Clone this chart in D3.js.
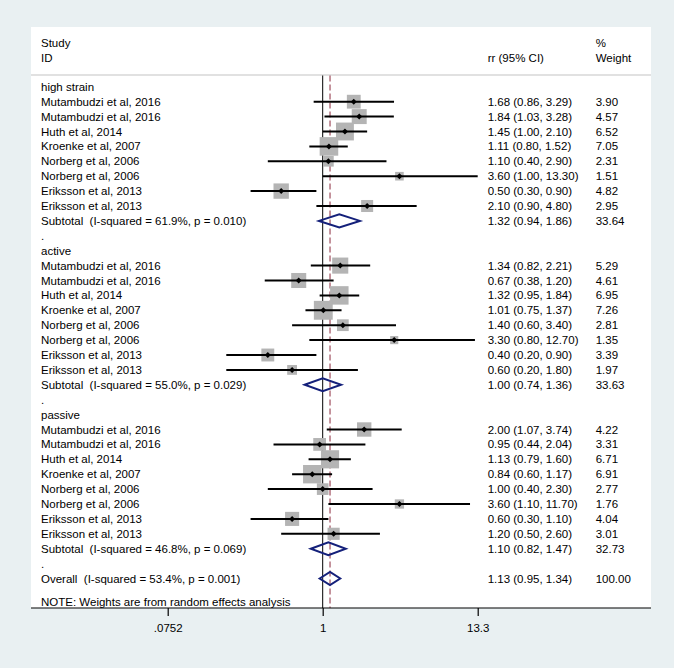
<!DOCTYPE html>
<html><head><meta charset="utf-8">
<script src="https://cdn.jsdelivr.net/npm/d3@7"></script>
<style>
html,body{margin:0;padding:0;background:#e9f0f2;}
svg{display:block;}
text{font-family:"Liberation Sans",Arial,sans-serif;font-size:11.5px;fill:#000;white-space:pre;}
</style></head>
<body><svg id="c" width="674" height="668"></svg>
<script>
// ---- data ----
const groups = ["high strain", "active", "passive"];
const studies = ["Mutambudzi et al, 2016","Mutambudzi et al, 2016","Huth et al, 2014","Kroenke et al, 2007","Norberg et al, 2006","Norberg et al, 2006","Eriksson et al, 2013","Eriksson et al, 2013"];
const highEst = [1.68,1.84,1.45,1.11,1.10,3.60,0.50,2.10];
const highLo  = [0.86,1.03,1.00,0.80,0.40,1.00,0.30,0.90];
const highHi  = [3.29,3.28,2.10,1.52,2.90,13.30,0.90,4.80];
const highW   = [3.90,4.57,6.52,7.05,2.31,1.51,4.82,2.95];
const actEst = [1.34,0.67,1.32,1.01,1.40,3.30,0.40,0.60];
const actLo  = [0.82,0.38,0.95,0.75,0.60,0.80,0.20,0.20];
const actHi  = [2.21,1.20,1.84,1.37,3.40,12.70,0.90,1.80];
const actW   = [5.29,4.61,6.95,7.26,2.81,1.35,3.39,1.97];
const pasEst = [2.00,0.95,1.13,0.84,1.00,3.60,0.60,1.20];
const pasLo  = [1.07,0.44,0.79,0.60,0.40,1.10,0.30,0.50];
const pasHi  = [3.74,2.04,1.60,1.17,2.30,11.70,1.10,2.60];
const pasW   = [4.22,3.31,6.71,6.91,2.77,1.76,4.04,3.01];
const subLabels = ["Subtotal  (I-squared = 61.9%, p = 0.010)","Subtotal  (I-squared = 55.0%, p = 0.029)","Subtotal  (I-squared = 46.8%, p = 0.069)"];
const subEst = [1.32,1.00,1.10];
const subLo  = [0.94,0.74,0.82];
const subHi  = [1.86,1.36,1.47];
const subW   = [33.64,33.63,32.73];
const overallLabel = "Overall  (I-squared = 53.4%, p = 0.001)";
const overallEst = 1.13, overallLo = 0.95, overallHi = 1.34, overallW = 100.00;
const tickValues = [0.0752, 1, 13.3];
const tickLabels = [".0752", "1", "13.3"];
const noteText = "NOTE: Weights are from random effects analysis";

// ---- build rows ----
const groupData = [
  {est:highEst, lo:highLo, hi:highHi, w:highW},
  {est:actEst, lo:actLo, hi:actHi, w:actW},
  {est:pasEst, lo:pasLo, hi:pasHi, w:pasW}
];
const rows = [];
groups.forEach((g,gi)=>{
  rows.push({type:"head", label:g});
  const d = groupData[gi];
  studies.forEach((s,i)=>rows.push({type:"study", label:s, est:d.est[i], lo:d.lo[i], hi:d.hi[i], w:d.w[i]}));
  rows.push({type:"sub", label:subLabels[gi], est:subEst[gi], lo:subLo[gi], hi:subHi[gi], w:subW[gi]});
  rows.push({type:"dot", label:"."});
});
rows.push({type:"sub", label:overallLabel, est:overallEst, lo:overallLo, hi:overallHi, w:overallW, overall:true});

// ---- layout ----
const svg = d3.select("#c");
const panel = {x0:31, x1:651, y0:27, y1:608};
svg.append("rect").attr("x",panel.x0).attr("y",panel.y0)
  .attr("width",panel.x1-panel.x0).attr("height",panel.y1-panel.y0).attr("fill","#fff");

const x = d3.scaleLog().domain([tickValues[0], tickValues[2]]).range([167.7, 477.7]);
const y = d3.scaleLinear().domain([0, 1]).range([86.8, 101.7]);
const labelX = 41, ciX = 487.7, wX = 595.7;
const fmt = d3.format(".2f");

// header
svg.append("text").attr("x",labelX).attr("y",43).attr("dy","0.35em").text("Study");
svg.append("text").attr("x",labelX).attr("y",57.5).attr("dy","0.35em").text("ID");
svg.append("text").attr("x",ciX).attr("y",57.5).attr("dy","0.35em").text("rr (95% CI)");
svg.append("text").attr("x",wX).attr("y",43).attr("dy","0.35em").text("%");
svg.append("text").attr("x",wX).attr("y",57.5).attr("dy","0.35em").text("Weight");
svg.append("line").attr("x1",panel.x0).attr("x2",panel.x1).attr("y1",75).attr("y2",75)
  .attr("stroke","#c4c4c4").attr("stroke-width",1.2);

// null line and overall line (behind boxes)
svg.append("line").attr("x1",x(1)).attr("x2",x(1)).attr("y1",75.5).attr("y2",panel.y1)
  .attr("stroke","#000").attr("stroke-width",1);
svg.append("line").attr("x1",x(overallEst)).attr("x2",x(overallEst)).attr("y1",75.5).attr("y2",panel.y1)
  .attr("stroke","#8c2a3c").attr("stroke-width",1).attr("stroke-dasharray","6,3");

// boxes
const g = svg.append("g");
rows.forEach((r,i)=>{
  if(r.type!=="study") return;
  const s = 7*Math.sqrt(r.w);
  g.append("rect").attr("x",x(r.est)-s/2).attr("y",y(i)-s/2).attr("width",s).attr("height",s).attr("fill","#b4b4b4");
});

rows.forEach((r,i)=>{
  const yy = y(i);
  if(r.type==="study"){
    g.append("line").attr("x1",x(r.lo)).attr("x2",x(r.hi)).attr("y1",yy).attr("y2",yy)
      .attr("stroke","#000").attr("stroke-width",2);
    const cx = x(r.est), h=3;
    g.append("path").attr("d",`M${cx-h},${yy}L${cx},${yy-h}L${cx+h},${yy}L${cx},${yy+h}Z`).attr("fill","#000");
  }
  if(r.type==="sub"){
    const h = 6.5;
    svg.append("path").attr("d",`M${x(r.lo)},${yy}L${x(r.est)},${yy-h}L${x(r.hi)},${yy}L${x(r.est)},${yy+h}Z`)
      .attr("fill","none").attr("stroke","#14207a").attr("stroke-width",2);
  }
  svg.append("text").attr("x",labelX).attr("y",yy).attr("dy","0.35em").text(r.label);
  if(r.type==="study"||r.type==="sub"){
    svg.append("text").attr("x",ciX).attr("y",yy).attr("dy","0.35em")
      .text(`${fmt(r.est)} (${fmt(r.lo)}, ${fmt(r.hi)})`);
    svg.append("text").attr("x",wX).attr("y",yy).attr("dy","0.35em").text(fmt(r.w));
  }
});

svg.append("text").attr("x",labelX).attr("y",602).attr("dy","0.35em").text(noteText);

// axis
svg.append("line").attr("x1",panel.x0).attr("x2",panel.x1).attr("y1",panel.y1).attr("y2",panel.y1)
  .attr("stroke","#000").attr("stroke-width",1.2);
const ax = svg.append("g").attr("transform",`translate(0,${panel.y1})`)
  .call(d3.axisBottom(x).tickValues(tickValues).tickFormat((d,i)=>tickLabels[i]).tickSize(8).tickSizeOuter(0).tickPadding(8));
ax.select(".domain").remove();
ax.selectAll(".tick line").attr("stroke","#000").attr("stroke-width",1.2);
ax.selectAll(".tick text").attr("font-family",null).attr("font-size",null).style("font-size","11.5px").style("font-family","'Liberation Sans',Arial,sans-serif");
</script></body></html>
